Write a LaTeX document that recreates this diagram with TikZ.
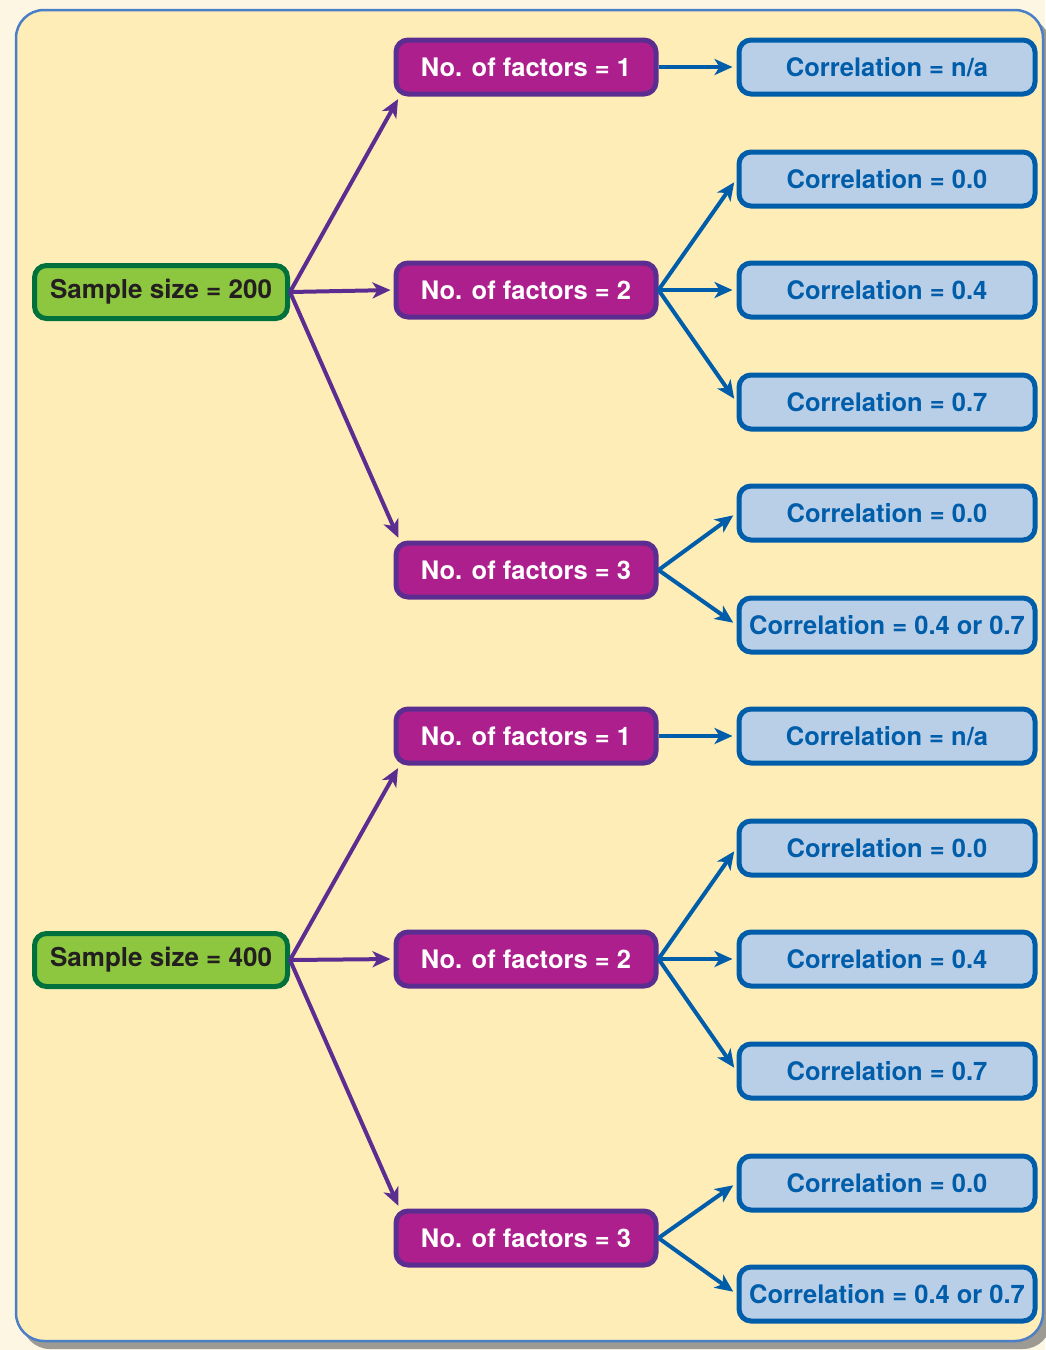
\documentclass[tikz,border=0pt]{standalone}
\usepackage{fontspec}
\setmainfont{TeX Gyre Heros}
\usetikzlibrary{arrows.meta,calc}
\definecolor{pagecream}{HTML}{FDF6E3}
\definecolor{shadowgray}{HTML}{9C9A92}
\definecolor{panelfill}{HTML}{FFEDB8}
\definecolor{panelline}{HTML}{4A7EC6}
\definecolor{samplefill}{HTML}{8DC63F}
\definecolor{sampleline}{HTML}{00703C}
\definecolor{sampletext}{HTML}{231F20}
\definecolor{factorfill}{HTML}{AD1F8C}
\definecolor{factorline}{HTML}{5C2D91}
\definecolor{corrfill}{HTML}{B9CFE7}
\definecolor{corrline}{HTML}{005DAA}

\begin{document}
\begin{tikzpicture}
  [
    x=1pt, y=-1pt,
    font=\fontsize{25.5}{30}\selectfont\bfseries,
    >={Stealth[length=18pt,width=16pt,inset=5pt]},
    sample/.style =
      {draw=sampleline, fill=samplefill, text=sampletext, line width=5pt,
       rounded corners=12pt, minimum width=253pt, minimum height=53pt,
       font=\fontsize{26}{30}\selectfont\bfseries},
    factor/.style =
      {draw=factorline, fill=factorfill, text=white, line width=5pt,
       rounded corners=12pt, minimum width=260pt, minimum height=54pt},
    corr/.style =
      {draw=corrline, fill=corrfill, text=corrline, line width=5pt,
       rounded corners=12pt, minimum width=296pt, minimum height=54pt},
    plink/.style = {draw=factorline, line width=4pt, shorten >=3pt},
    blink/.style = {draw=corrline, line width=4pt, shorten >=4pt}
  ]
  \useasboundingbox (0,0) rectangle (1045,1350);
  \fill[pagecream] (0,0) rectangle (1045,1350);
  \fill[shadowgray, rounded corners=28pt] (22,18) rectangle (1051,1349);
  \draw[panelline, fill=panelfill, line width=2.5pt, rounded corners=28pt]
    (16,10) rectangle (1043,1341);

  % sample size 200
  \node [sample] at (161,292)  (s1) {Sample size = 200};
  \node [factor] at (526,67)   (f1) {No. of factors = 1};
  \node [factor] at (526,290)  (f2) {No. of factors = 2};
  \node [factor] at (526,570)  (f3) {No. of factors = 3};
  \node [corr]   at (887,67)   (c1) {Correlation = n/a};
  \node [corr]   at (887,179)  (c2) {Correlation = 0.0};
  \node [corr]   at (887,290)  (c3) {Correlation = 0.4};
  \node [corr]   at (887,402)  (c4) {Correlation = 0.7};
  \node [corr]   at (887,513)  (c5) {Correlation = 0.0};
  \node [corr]   at (887,625)  (c6) {Correlation = 0.4 or 0.7};

  % sample size 400
  \node [sample] at (161,960)  (s2) {Sample size = 400};
  \node [factor] at (526,736)  (g1) {No. of factors = 1};
  \node [factor] at (526,959)  (g2) {No. of factors = 2};
  \node [factor] at (526,1238) (g3) {No. of factors = 3};
  \node [corr]   at (887,736)  (d1) {Correlation = n/a};
  \node [corr]   at (887,848)  (d2) {Correlation = 0.0};
  \node [corr]   at (887,959)  (d3) {Correlation = 0.4};
  \node [corr]   at (887,1071) (d4) {Correlation = 0.7};
  \node [corr]   at (887,1183) (d5) {Correlation = 0.0};
  \node [corr]   at (887,1294) (d6) {Correlation = 0.4 or 0.7};

  \draw[->, plink] (s1.east) -- ($(f1.south west)+(6,0)$);
  \draw[->, plink] (s1.east) -- (f2.west);
  \draw[->, plink] (s1.east) -- ($(f3.north west)+(6,0)$);
  \draw[->, blink] (f1.east) -- (c1.west);
  \draw[->, blink] (f2.east) -- (c2.west);
  \draw[->, blink] (f2.east) -- (c3.west);
  \draw[->, blink] (f2.east) -- (c4.west);
  \draw[->, blink] (f3.east) -- (c5.west);
  \draw[->, blink] (f3.east) -- (c6.west);

  \draw[->, plink] (s2.east) -- ($(g1.south west)+(6,0)$);
  \draw[->, plink] (s2.east) -- (g2.west);
  \draw[->, plink] (s2.east) -- ($(g3.north west)+(6,0)$);
  \draw[->, blink] (g1.east) -- (d1.west);
  \draw[->, blink] (g2.east) -- (d2.west);
  \draw[->, blink] (g2.east) -- (d3.west);
  \draw[->, blink] (g2.east) -- (d4.west);
  \draw[->, blink] (g3.east) -- (d5.west);
  \draw[->, blink] (g3.east) -- (d6.west);

\end{tikzpicture}
\end{document}
